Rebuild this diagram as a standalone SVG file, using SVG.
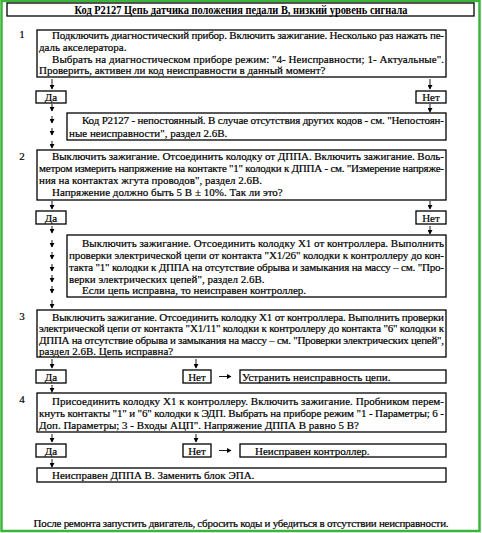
<svg xmlns="http://www.w3.org/2000/svg" width="482" height="533" viewBox="0 0 482 533">
<defs>
<style>
.t{font-family:"Liberation Serif","Times New Roman",serif;font-size:11px;fill:#000;stroke:#000;stroke-width:0.2}
.tb{font-family:"Liberation Serif","Times New Roman",serif;font-size:11.5px;font-weight:bold;fill:#000}
.n{font-family:"Liberation Serif","Times New Roman",serif;font-size:11px;fill:#000;stroke:#000;stroke-width:0.2;text-anchor:middle}
.box{fill:#fff;stroke:#000;stroke-width:1.3}
.c{fill:none;stroke:#000;stroke-width:0.9;marker-end:url(#ah)}
</style>
<marker id="ah" markerUnits="userSpaceOnUse" markerWidth="5" markerHeight="5" refX="4" refY="2.5" orient="auto">
<path d="M0,0 L4.5,2.5 L0,5 Z" fill="#000"/>
</marker>
</defs>
<rect x="0" y="0" width="482" height="533" fill="#fff"/>
<rect x="1.5" y="1" width="478" height="530" fill="none" stroke="#3cb43c" stroke-width="2.5"/>

<g id="title">
<rect class="box" x="7" y="3" width="467" height="13" stroke-width="1.2"/>
<text class="tb" x="241" y="13.5" text-anchor="middle" textLength="333" lengthAdjust="spacingAndGlyphs">Код P2127 Цепь датчика положения педали В, низкий уровень сигнала</text>
</g>

<g id="step1">
<text class="n" x="22" y="38">1</text>
<rect class="box" x="37" y="30" width="409" height="47"/>
<text class="t" x="52" y="38.5" textLength="392" lengthAdjust="spacing">Подключить диагностический прибор. Включить зажигание. Несколько раз нажать пе-</text>
<text class="t" x="39" y="50.5">даль акселератора.</text>
<text class="t" x="52" y="62.5" textLength="392" lengthAdjust="spacing">Выбрать на диагностическом приборе режим: "4- Неисправности; 1- Актуальные".</text>
<text class="t" x="39" y="74">Проверить, активен ли код неисправности в данный момент?</text>
</g>

<g id="yes1"><rect class="box" x="36" y="91" width="30" height="12"/><text class="n" x="51" y="101">Да</text></g>
<g id="no1"><rect class="box" x="416" y="91" width="30" height="12"/><text class="n" x="431" y="101">Нет</text></g>

<g id="intermittent">
<rect class="box" x="67" y="113" width="379" height="27"/>
<text class="t" x="82" y="124" textLength="362" lengthAdjust="spacing">Код P2127 - непостоянный. В случае отсутствия других кодов - см. "Непостоян-</text>
<text class="t" x="69" y="136.5">ные неисправности", раздел 2.6В.</text>
</g>

<g id="step2">
<text class="n" x="22" y="160">2</text>
<rect class="box" x="37" y="150" width="409" height="50"/>
<text class="t" x="52" y="160" textLength="392" lengthAdjust="spacing">Выключить зажигание. Отсоединить колодку от ДППА. Включить зажигание. Воль-</text>
<text class="t" x="39" y="172" textLength="405" lengthAdjust="spacing">метром измерить напряжение на контакте "1" колодки к ДППА - см. "Измерение напряже-</text>
<text class="t" x="39" y="184">ния на контактах жгута проводов", раздел 2.6В.</text>
<text class="t" x="52" y="196">Напряжение должно быть 5 В ± 10%. Так ли это?</text>
</g>

<g id="yes2"><rect class="box" x="36" y="211" width="30" height="13"/><text class="n" x="51" y="221.5">Да</text></g>
<g id="no2"><rect class="box" x="416" y="211" width="30" height="13"/><text class="n" x="431" y="221.5">Нет</text></g>

<g id="wiring1">
<rect class="box" x="67" y="235" width="379" height="62"/>
<text class="t" x="82" y="246.5" textLength="362" lengthAdjust="spacing">Выключить зажигание. Отсоединить колодку X1 от контроллера. Выполнить</text>
<text class="t" x="69" y="258.5" textLength="375" lengthAdjust="spacing">проверки электрической цепи от контакта "X1/26" колодки к контроллеру до кон-</text>
<text class="t" x="69" y="270.5" textLength="375" lengthAdjust="spacing">такта "1" колодки к ДППА на отсутствие обрыва и замыкания на массу – см. "Про-</text>
<text class="t" x="69" y="282.5">верки электрических цепей", раздел 2.6В.</text>
<text class="t" x="82" y="294">Если цепь исправна, то неисправен контроллер.</text>
</g>

<g id="step3">
<text class="n" x="22" y="320">3</text>
<rect class="box" x="37" y="310" width="409" height="47"/>
<text class="t" x="52" y="320.5" textLength="392" lengthAdjust="spacing">Выключить зажигание. Отсоединить колодку X1 от контроллера. Выполнить проверки</text>
<text class="t" x="39" y="332" textLength="405" lengthAdjust="spacing">электрической цепи от контакта "X1/11" колодки к контроллеру до контакта "6" колодки к</text>
<text class="t" x="39" y="343.5" textLength="405" lengthAdjust="spacing">ДППА на отсутствие обрыва и замыкания на массу – см. "Проверки электрических цепей",</text>
<text class="t" x="39" y="354.5">раздел 2.6В. Цепь исправна?</text>
</g>

<g id="yes3"><rect class="box" x="36" y="370" width="30" height="13"/><text class="n" x="51" y="380.5">Да</text></g>
<g id="no3"><rect class="box" x="183" y="370" width="28" height="13"/><text class="n" x="197" y="380.5">Нет</text></g>
<g id="fix"><rect class="box" x="240" y="370" width="206" height="13"/><text class="t" x="242" y="380.5">Устранить неисправность цепи.</text></g>

<g id="step4">
<text class="n" x="22" y="403">4</text>
<rect class="box" x="37" y="393" width="409" height="39"/>
<text class="t" x="52" y="404.5" textLength="392" lengthAdjust="spacing">Присоединить колодку X1 к контроллеру. Включить зажигание. Пробником перем-</text>
<text class="t" x="39" y="416.5" textLength="405" lengthAdjust="spacing">кнуть контакты "1" и "6" колодки к ЭДП. Выбрать на приборе режим "1 - Параметры; 6 -</text>
<text class="t" x="39" y="428.5">Доп. Параметры; 3 - Входы АЦП". Напряжение ДППА В равно 5 В?</text>
</g>

<g id="yes4"><rect class="box" x="36" y="444" width="30" height="13"/><text class="n" x="51" y="454.5">Да</text></g>
<g id="no4"><rect class="box" x="183" y="444" width="28" height="13"/><text class="n" x="197" y="454.5">Нет</text></g>
<g id="ecu"><rect class="box" x="240" y="444" width="206" height="13"/><text class="t" x="255" y="454.5">Неисправен контроллер.</text></g>

<g id="sensor"><rect class="box" x="37" y="468" width="409" height="14"/><text class="t" x="52" y="478.5">Неисправен ДППА В. Заменить блок ЭПА.</text></g>

<g id="footer"><text class="t" x="241" y="527" text-anchor="middle" textLength="415" lengthAdjust="spacing">После ремонта запустить двигатель, сбросить коды и убедиться в отсутствии неисправности.</text></g>

<g id="connectors">
<path class="c" d="M52,79 V89"/>
<path class="c" d="M430,79 V89"/>
<path class="c" d="M52,104 V111"/>
<path class="c" d="M52,116 V123"/>
<path class="c" d="M52,128 V135"/>
<path class="c" d="M52,141 V148"/>
<path class="c" d="M430,104 V112"/>
<path class="c" d="M52,201 V209"/>
<path class="c" d="M430,201 V209"/>
<path class="c" d="M52,226 V233"/>
<path class="c" d="M430,226 V234"/>
<path class="c" d="M52,240 V247"/>
<path class="c" d="M52,252 V259"/>
<path class="c" d="M52,264 V271"/>
<path class="c" d="M52,275 V282"/>
<path class="c" d="M52,286 V293"/>
<path class="c" d="M52,300 V308"/>
<path class="c" d="M52,359 V368"/>
<path class="c" d="M196,359 V368"/>
<path class="c" d="M52,385 V392"/>
<path class="c" d="M219,376.5 H231"/>
<path class="c" d="M52,434 V442"/>
<path class="c" d="M196,434 V442"/>
<path class="c" d="M52,459 V467"/>
<path class="c" d="M219,450.5 H231"/>
</g>
</svg>
